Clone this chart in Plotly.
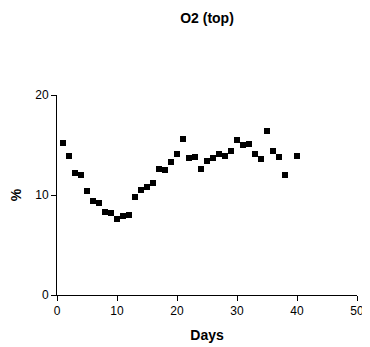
import plotly.graph_objects as go

days = [1, 2, 3, 4, 5, 6, 7, 8, 9, 10, 11, 12, 13, 14, 15, 16, 17, 18, 19, 20,
        21, 22, 23, 24, 25, 26, 27, 28, 29, 30, 31, 32, 33, 34, 35, 36, 37, 38, 40]
o2 = [15.2, 13.9, 12.2, 12.0, 10.4, 9.4, 9.2, 8.3, 8.2, 7.6, 7.9, 8.0, 9.8, 10.5,
      10.8, 11.2, 12.6, 12.5, 13.3, 14.1, 15.6, 13.7, 13.8, 12.6, 13.4, 13.7, 14.1,
      13.9, 14.4, 15.5, 15.0, 15.1, 14.1, 13.6, 16.4, 14.4, 13.8, 12.0, 13.9]
x_ticks = [0, 10, 20, 30, 40, 50]
y_ticks = [0, 10, 20]

fig = go.Figure(go.Scatter(
    x=days, y=o2, mode="markers",
    marker=dict(symbol="square", size=6, color="black"),
    cliponaxis=False,
))

W, H = 362, 339  # page body adds an 8px offset
font = "Liberation Sans, Arial, Helvetica, sans-serif"
fig.update_layout(
    width=W, height=H,
    margin=dict(l=49, r=13, t=87, b=52, autoexpand=False),
    paper_bgcolor="white", plot_bgcolor="white",
    showlegend=False,
    font=dict(family=font, size=12, color="black"),
    title=dict(text="<b>O2 (top)</b>", x=(207 - 8) / W, xanchor="center",
               y=1 - 10 / H, yanchor="middle", font=dict(size=14)),
    xaxis=dict(range=[0, 50], tickvals=x_ticks, ticks="outside", ticklen=5,
               showline=True, linecolor="black", linewidth=1, showgrid=False,
               zeroline=False, tickcolor="black", automargin=False,
               title=dict(text="<b>Days</b>", font=dict(size=14), standoff=12)),
    yaxis=dict(range=[0, 20], tickvals=y_ticks, ticks="outside", ticklen=5,
               showline=True, linecolor="black", linewidth=1, showgrid=False,
               zeroline=False, tickcolor="black", automargin=False,
               title=dict(text="<b>%</b>", font=dict(size=14), standoff=11)),
)

fig.write_html("out.html")
